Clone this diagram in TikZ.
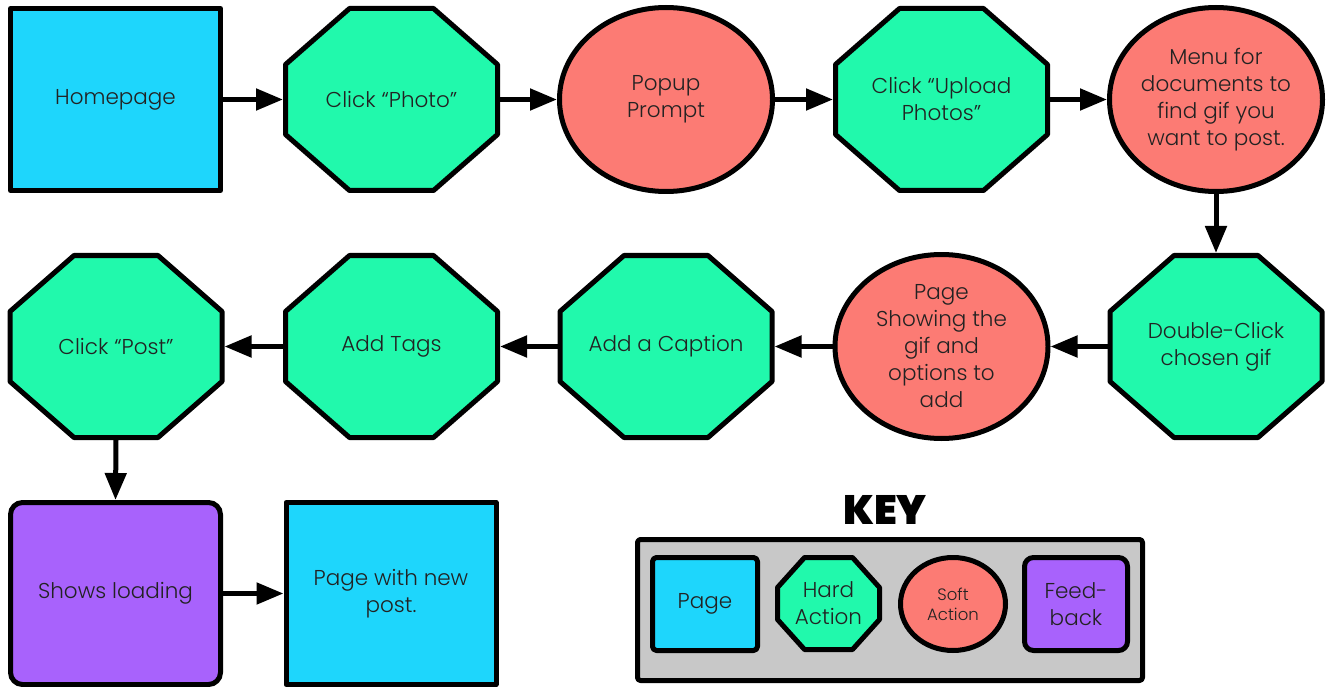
\documentclass[tikz,border=0pt]{standalone}
\usepackage{fontspec}
\setmainfont{Poppins}[UprightFont=* Light,BoldFont=* Bold]
\newfontface\keyfont{Poppins Black}
\usetikzlibrary{arrows.meta,shapes.geometric}

\definecolor{pagecol}{HTML}{1ED6FC}
\definecolor{hardcol}{HTML}{21F9AC}
\definecolor{softcol}{HTML}{FC7B74}
\definecolor{feedcol}{HTML}{A862FC}
\definecolor{keycol}{HTML}{C8C8C8}
\definecolor{inkcol}{HTML}{222222}

% Octagonal "hard action" node: name, centre, half width, half height,
% horizontal cut, vertical cut, label text
\newcommand{\hardnode}[7]{%
  \filldraw[hardshape, shift={(#2)}]
    ({-#3+#5},{-#4}) -- ({#3-#5},{-#4}) -- (#3,{-#4+#6}) -- (#3,{#4-#6})
    -- ({#3-#5},#4) -- ({-#3+#5},#4) -- ({-#3},{#4-#6}) -- ({-#3},{-#4+#6}) -- cycle;
  \node[minimum width={2*#3}, minimum height={2*#4}, inner sep=0pt, outer sep=2.5pt,
        label={[txt]center:{#7}}] (#1) at (#2) {};%
}

\begin{document}
\begin{tikzpicture}[x=1pt, y=-1pt,
  base/.style={draw=black, line width=5pt, line join=round, inner sep=0pt},
  pagebox/.style={base, fill=pagecol, minimum width=210pt, minimum height=182pt},
  softbox/.style={base, ellipse, fill=softcol, minimum width=213pt, minimum height=184pt},
  feedbox/.style={base, fill=feedcol, rounded corners=12pt, minimum width=210pt, minimum height=182pt},
  hardshape/.style={draw=black, fill=hardcol, line width=5pt, line join=round},
  txt/.style={font=\fontsize{21.5}{27}\selectfont, text=inkcol, align=center, inner sep=0pt},
  smalltxt/.style={font=\fontsize{16.5}{20}\selectfont, text=inkcol, align=center, inner sep=0pt},
  flow/.style={line width=5pt, -{Triangle[length=27pt,width=21pt]}},
]
\fill[white] (0,0) rectangle (1328,687);
\useasboundingbox (0,0) rectangle (1328,687);

% first row
\node[pagebox, label={[txt]center:Homepage}] (home) at (115.5,99.5) {};
\hardnode{photo}{391.5,99.5}{106}{91}{64}{56}{Click “Photo”}
\node[softbox, label={[txt]center:{Popup\\Prompt}}] (popup) at (666,99.5) {};
\hardnode{upload}{941.5,99.5}{106}{91}{64}{56}{Click “Upload\\Photos”}
\node[softbox, label={[txt]center:{Menu for\\documents to\\find gif you\\want to post.}}] (menu) at (1216,99.5) {};

% second row
\hardnode{dbl}{1216,346.5}{106}{91}{64}{56}{Double-Click\\chosen gif}
\node[softbox, label={[txt]center:{Page\\Showing the\\gif and\\options to\\add}}] (showgif) at (941.5,346.5) {};
\hardnode{caption}{666,346.5}{106}{91}{64}{56}{Add a Caption}
\hardnode{tags}{391.5,346.5}{106}{91}{64}{56}{Add Tags}
\hardnode{post}{116,346.5}{106}{91}{64}{56}{Click “Post”}

% third row
\node[feedbox, label={[txt]center:{Shows loading}}] (loading) at (115.5,593.5) {};
\node[pagebox, label={[txt]center:{Page with new\\post.}}] (newpost) at (391,593.5) {};

% connectors
\draw[flow] (home.east) -- (photo.west);
\draw[flow] (photo.east) -- (popup.west);
\draw[flow] (popup.east) -- (upload.west);
\draw[flow] (upload.east) -- (menu.west);
\draw[flow] (menu.south) -- (dbl.north);
\draw[flow] (dbl.west) -- (showgif.east);
\draw[flow] (showgif.west) -- (caption.east);
\draw[flow] (caption.west) -- (tags.east);
\draw[flow] (tags.west) -- (post.east);
\draw[flow] (post.south) -- (loading.north);
\draw[flow] (loading.east) -- (newpost.west);

% key
\node[font=\keyfont\fontsize{41}{41}\selectfont, text=black] (keytitle) at (885,510) {KEY};
\node[base, fill=keycol, rounded corners=3pt, minimum width=505pt, minimum height=141pt] (keybox) at (890,610) {};
\node[base, fill=pagecol, rounded corners=4pt, minimum width=105pt, minimum height=93pt,
      label={[txt]center:Page}] (keypage) at (705,604) {};
\hardnode{keyhard}{828.5,603.5}{51}{46}{27}{30}{Hard\\Action}
\node[base, ellipse, fill=softcol, minimum width=105pt, minimum height=93pt,
      label={[smalltxt]center:{Soft\\Action}}] (keysoft) at (953,604) {};
\node[base, fill=feedcol, rounded corners=9pt, minimum width=103pt, minimum height=93pt,
      label={[txt]center:{Feed-\\back}}] (keyfeed) at (1076,604) {};
\end{tikzpicture}
\end{document}
